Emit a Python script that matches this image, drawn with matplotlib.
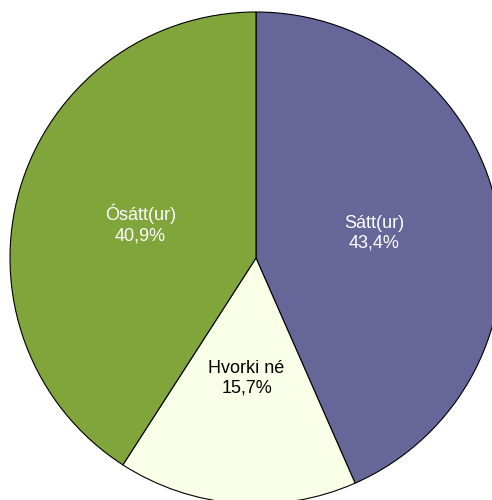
import matplotlib
matplotlib.use("Agg")
import matplotlib.pyplot as plt

labels = ['Sátt(ur)', 'Hvorki né', 'Ósátt(ur)']
values = [43.4, 15.7, 40.9]
colors = ['#666699', '#FAFFE8', '#7FA53B']
text_colors = ['white', 'black', 'white']

plt.rcParams['font.family'] = ['Liberation Sans Narrow', 'Liberation Sans', 'DejaVu Sans']

W, H = 492, 500
cx, cy, r = 256, 242, 246  # pixel centre (from bottom-left) and radius

fig = plt.figure(figsize=(W / 100, H / 100), dpi=100)
ax = fig.add_axes([0, 0, 1, 1])

wedges, texts = ax.pie(values, colors=colors, startangle=90, counterclock=False,
                       wedgeprops={'edgecolor': 'black', 'linewidth': 0.8})

for w, lab, val, tc in zip(wedges, labels, values, text_colors):
    import numpy as np
    ang = np.deg2rad((w.theta1 + w.theta2) / 2)
    x, y = 0.49 * np.cos(ang), 0.49 * np.sin(ang)
    ax.text(x, y, lab + '\n' + ('%.1f%%' % val).replace('.', ','),
            ha='center', va='center', color=tc, fontsize=13, linespacing=1.25)

ax.set_aspect('auto')
ax.set_xlim(-cx / r, (W - cx) / r)
ax.set_ylim(-cy / r, (H - cy) / r)
ax.axis('off')

plt.savefig('out.png', dpi=100)
